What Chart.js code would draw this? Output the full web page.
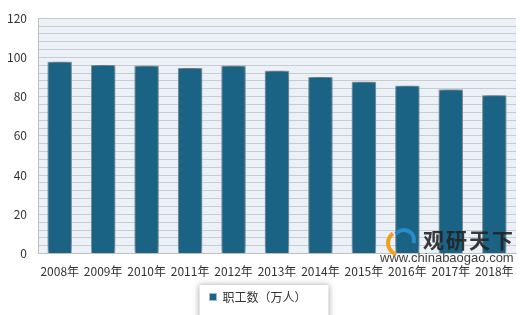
<!DOCTYPE html>
<html>
<head>
<meta charset="utf-8">
<script src="https://cdn.jsdelivr.net/npm/chart.js@4/dist/chart.umd.min.js"></script>
<style>
  html, body { margin: 0; padding: 0; background: #fff; }
  #wrap { width: 520px; height: 315px; }
</style>
</head>
<body>
<div id="wrap"><canvas id="myChart" width="520" height="315"></canvas></div>
<script>
const years = ["2008年", "2009年", "2010年", "2011年", "2012年", "2013年", "2014年", "2015年", "2016年", "2017年", "2018年"];
const workers = [97.8, 96.1, 95.8, 94.6, 95.8, 93.2, 90.0, 87.6, 85.6, 83.6, 80.7]; // 万人
const yMax = 120;
const yLabelStep = 20;

const fontFamily = "'Noto Sans CJK SC', 'Liberation Sans', sans-serif";

// light plot background + shadowed bars + legend frame + watermark
const decor = {
  id: 'decor',
  beforeDraw(chart) {
    const { ctx, chartArea: a } = chart;
    ctx.save();
    ctx.fillStyle = '#EBF1F7';
    ctx.fillRect(a.left, a.top, a.right - a.left, a.bottom - a.top);
    // legend frame, bottom runs off the canvas
    const hb = chart.legend.legendHitBoxes[0];
    if (hb) {
      ctx.shadowColor = 'rgba(0,0,0,0.35)';
      ctx.shadowBlur = 6;
      ctx.fillStyle = '#fff';
      ctx.fillRect(hb.left - 10, hb.top - 6, hb.width + 32, 60);
    }
    ctx.restore();
  },
  beforeDatasetsDraw(chart) {
    const ctx = chart.ctx;
    ctx.save();
    ctx.shadowColor = 'rgba(50,50,50,0.75)';
    ctx.shadowBlur = 8;
    ctx.shadowOffsetX = 0;
    ctx.shadowOffsetY = -2;
  },
  afterDatasetsDraw(chart) {
    chart.ctx.restore();
    const ctx = chart.ctx;
    ctx.save();
    ctx.font = "bold 21px 'Noto Sans CJK SC', sans-serif";
    ctx.fillStyle = 'rgba(35,35,35,0.9)';
    ctx.textBaseline = 'middle';
    let x = 423;
    for (const ch of '观研天下') { ctx.fillText(ch, x, 240); x += 23; }
    ctx.font = "13px 'Liberation Sans', sans-serif";
    ctx.fillStyle = 'rgba(40,40,40,0.9)';
    ctx.fillText('www.chinabaogao.com', 380, 258);
    // simple logo swoosh
    ctx.lineWidth = 4;
    ctx.strokeStyle = '#F0A020';
    ctx.beginPath();
    ctx.arc(400, 243, 12, Math.PI * 0.6, Math.PI * 1.3);
    ctx.stroke();
    ctx.strokeStyle = '#2A8CC8';
    ctx.beginPath();
    ctx.arc(404, 240, 10, Math.PI * 1.2, Math.PI * 2.1);
    ctx.stroke();
    ctx.restore();
  }
};

new Chart(document.getElementById('myChart'), {
  type: 'bar',
  data: {
    labels: years,
    datasets: [{
      label: '职工数（万人）',
      data: workers,
      backgroundColor: '#1A6385',
      borderColor: '#9DB9C9',
      borderWidth: 1,
      categoryPercentage: 0.56,
      barPercentage: 1.0
    }]
  },
  options: {
    responsive: false,
    animation: false,
    devicePixelRatio: 1,
    layout: { padding: { left: 0, right: 4, top: 7, bottom: 2 } },
    plugins: {
      legend: {
        position: 'bottom',
        labels: {
          boxWidth: 7,
          boxHeight: 7,
          color: '#333',
          padding: 5,
          font: { family: fontFamily, size: 12 }
        }
      },
      tooltip: { enabled: false },
      title: { display: false }
    },
    scales: {
      x: {
        grid: { display: false },
        border: { color: '#BFBFBF' },
        afterFit(scale) { scale.height += 4; },
        ticks: {
          color: '#333',
          maxRotation: 0,
          padding: 3,
          font: { family: fontFamily, size: 12 }
        }
      },
      y: {
        min: 0,
        max: yMax,
        border: { color: '#BFBFBF' },
        grid: { color: '#C8CDD2', lineWidth: 1, drawTicks: false },
        afterFit(scale) { scale.width = 38; },
        ticks: {
          stepSize: 4,
          autoSkip: false,
          color: '#333',
          padding: 11,
          font: { family: fontFamily, size: 12 },
          callback: v => (v % yLabelStep === 0 ? v : '')
        }
      }
    }
  },
  plugins: [decor]
});
</script>
</body>
</html>
